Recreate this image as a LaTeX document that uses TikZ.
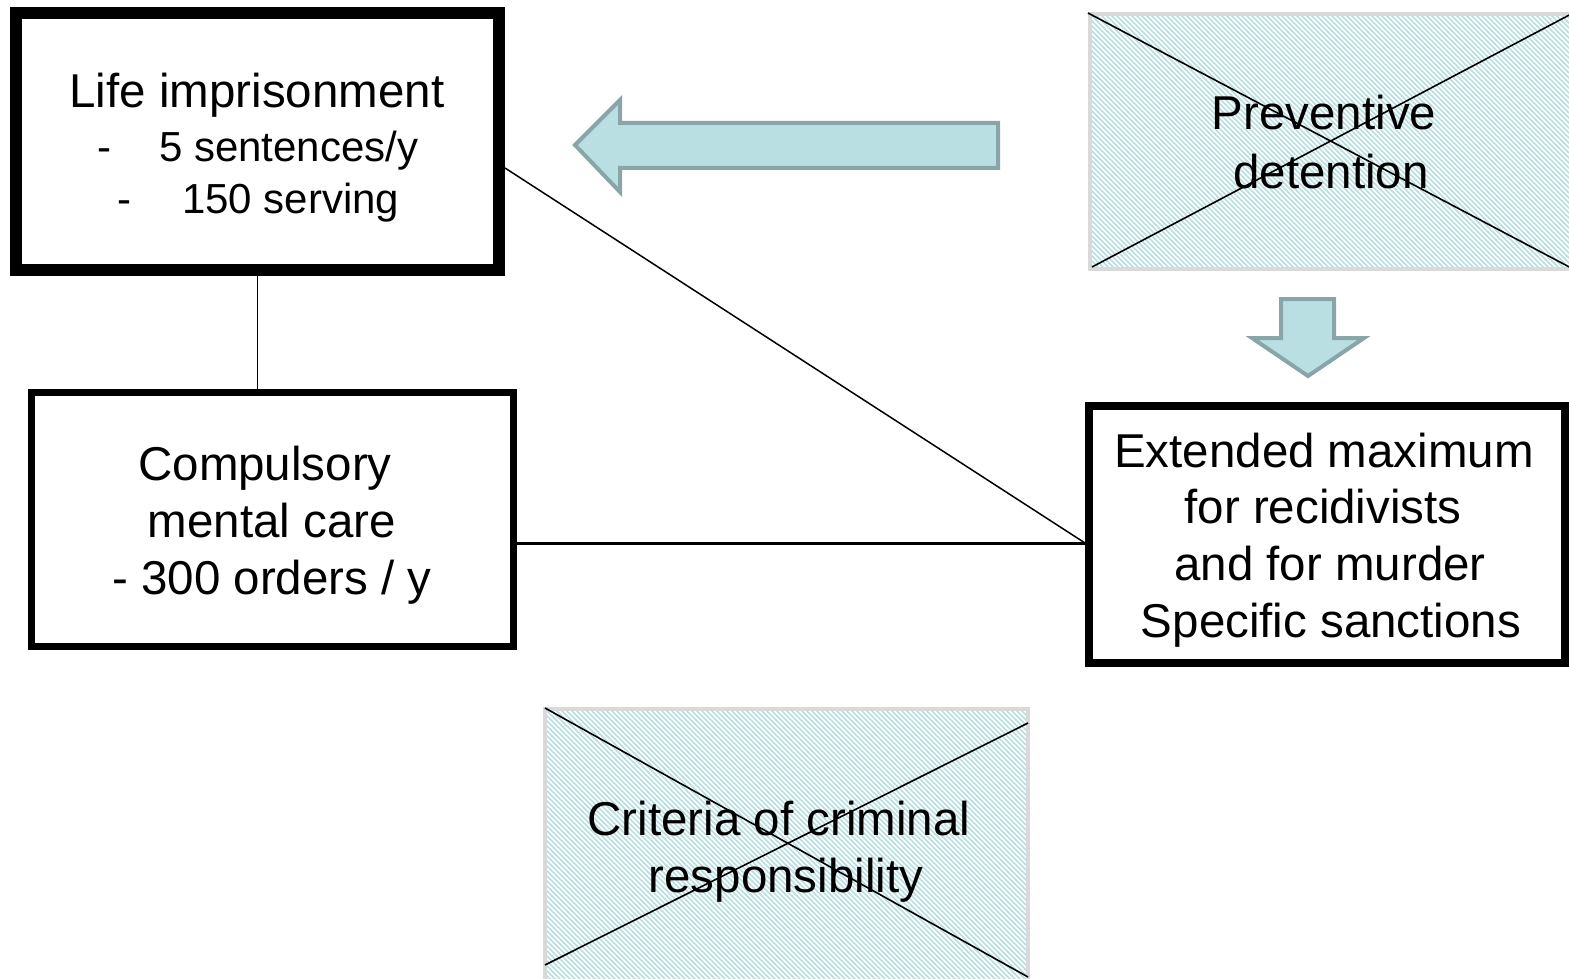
\documentclass[tikz,border=0pt]{standalone}
\usepackage{fontspec}
\setmainfont{Liberation Sans}
\definecolor{phgray}{RGB}{217,217,217}
\definecolor{hatchc}{RGB}{183,222,226}
\definecolor{arrowfill}{RGB}{185,223,226}
\definecolor{arrowedge}{RGB}{138,165,168}
\begin{document}
\begin{tikzpicture}[x=1pt,y=-1pt,
  txt/.style={inner sep=0pt, anchor=base, font=\fontsize{47.5}{57}\selectfont},
  smalltxt/.style={inner sep=0pt, anchor=base west, font=\fontsize{42}{52}\selectfont},
  blk/.style={draw=black, rectangle, inner sep=0pt, fill=white},
  ph/.style={draw=phgray, line width=4pt, rectangle, inner sep=0pt},
  hatchline/.style={draw=hatchc, line width=1.6pt},
  xline/.style={draw=black, line width=1.6pt},
  conn/.style={draw=black},
  bigarrow/.style={draw=arrowedge, fill=arrowfill, line width=4pt, line join=miter}
]
\useasboundingbox (0,0) rectangle (1569,979);
\clip (0,0) rectangle (1569,979);

% ---------- placeholder: Preventive detention ----------
\begin{scope}
  \clip (1089.5,14) rectangle (1600,269);
  \foreach \x in {830,835,...,1575} { \draw[hatchline] (\x,14) -- ++(255,255); }
\end{scope}
\node[ph, minimum width=510pt, minimum height=255pt] (prev) at (1344.5,141.5) {};
\draw[xline] (1088,13) -- (1575,270);
\draw[xline] (1092,267) -- (1575,12);
\node[txt] (prev1) at (1324,130) {Preventive};
\node[txt] (prev2) at (1331,188) {detention};

% ---------- placeholder: Criteria of criminal responsibility ----------
\begin{scope}
  \clip (545,709) rectangle (1028,1000);
  \foreach \x in {270,275,...,1030} { \draw[hatchline] (\x,709) -- ++(300,300); }
\end{scope}
\node[ph, minimum width=483pt, minimum height=300pt] (crit) at (786.5,859) {};
\draw[xline] (545,708) -- (1028,977);
\draw[xline] (545,965) -- (1028,723);
\node[txt] (crit1) at (779,835) {Criteria of criminal};
\node[txt] (crit2) at (786,892) {responsibility};

% ---------- boxes ----------
\node[blk, line width=12pt, minimum width=483pt, minimum height=257pt] (life) at (257.5,141.5) {};
\node[blk, line width=7pt, minimum width=482pt, minimum height=254pt] (comp) at (272.5,519.5) {};
\node[blk, line width=8pt, minimum width=476pt, minimum height=257pt] (ext) at (1327,534.5) {};

% ---------- connectors ----------
\coordinate (ej) at (ext.west |- 0,543);
\coordinate (ls) at (life.east |- 0,168);
\draw[conn, line width=1.5pt] (life.south) -- (life.south |- comp.north);
\draw[conn, line width=1.5pt] (ls) -- (ej);
\draw[conn, line width=3pt] (comp.east |- ej) -- (ej);

% ---------- block arrows ----------
\draw[bigarrow] (575,145) -- (620,100) -- (620,123) -- (998,123) -- (998,168)
  -- (620,168) -- (620,192) -- cycle;
\draw[bigarrow] (1281,299) -- (1334,299) -- (1334,338) -- (1364,338) -- (1308,376)
  -- (1252,338) -- (1281,338) -- cycle;

% ---------- texts ----------
\node[txt] (life1) at (257,108) {Life imprisonment};
\node[smalltxt] (life2) at (97,161) {-\hspace*{48pt}5 sentences/y};
\node[smalltxt] (life3) at (117,213) {-\hspace*{51pt}150 serving};

\node[txt] (comp1) at (265,480) {Compulsory};
\node[txt] (comp2) at (272,537) {mental care};
\node[txt] (comp3) at (272,594) {- 300 orders / y};

\node[txt] (ext1) at (1324,467) {Extended maximum};
\node[txt] (ext2) at (1323,523) {for recidivists};
\node[txt] (ext3) at (1330,580) {and for murder};
\node[txt] (ext4) at (1331,637) {Specific sanctions};
\end{tikzpicture}
\end{document}
